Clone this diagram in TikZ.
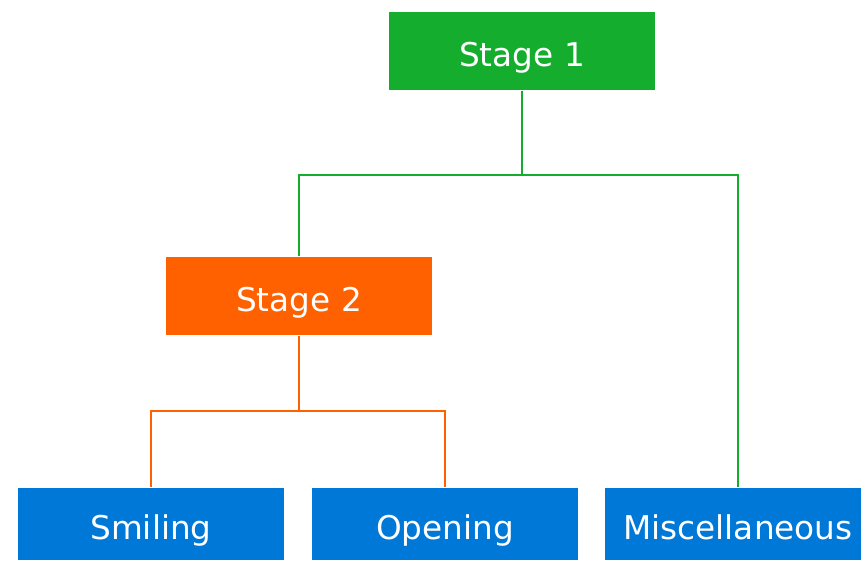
\documentclass[tikz,border=0pt]{standalone}
\usepackage{fontspec}
\setmainfont{DejaVu Sans}
\usetikzlibrary{positioning}

\definecolor{stagegreen}{RGB}{21,173,45}
\definecolor{stageorange}{RGB}{255,96,0}
\definecolor{leafblue}{RGB}{0,120,215}

\begin{document}
\begin{tikzpicture}[x=0.1mm,y=-0.1mm,
  font=\fontsize{9.3}{11}\selectfont,
  box/.style={text=white,inner sep=0pt,minimum width=26.6mm,
    text height=3.1mm,text depth=0pt},
  stagebox/.style={box,minimum height=7.8mm},
  leafbox/.style={box,fill=leafblue,minimum height=7.2mm},
  link/.style={line width=0.2mm}]
  \path[use as bounding box,clip] (0,0) rectangle (861,561);

  % Stages
  \node[stagebox,fill=stagegreen] (stage1) at (522,51) {Stage 1};
  \node[stagebox,fill=stageorange] (stage2) at (299,296) {Stage 2};

  % Leaves
  \node[leafbox] (smiling) at (151,524) {Smiling};
  \node[leafbox] (opening) at (445,524) {Opening};
  \node[leafbox] (misc) at (738,524) {Miscellaneous};

  % Links from stage 1
  \coordinate (fork1) at (522,175);
  \draw[link,stagegreen] (stage1) -- (fork1) -| (stage2);
  \draw[link,stagegreen] (fork1) -| (misc);

  % Links from stage 2
  \coordinate (fork2) at (299,411);
  \draw[link,stageorange] (stage2) -- (fork2) -| (smiling);
  \draw[link,stageorange] (fork2) -| (opening);
\end{tikzpicture}
\end{document}
